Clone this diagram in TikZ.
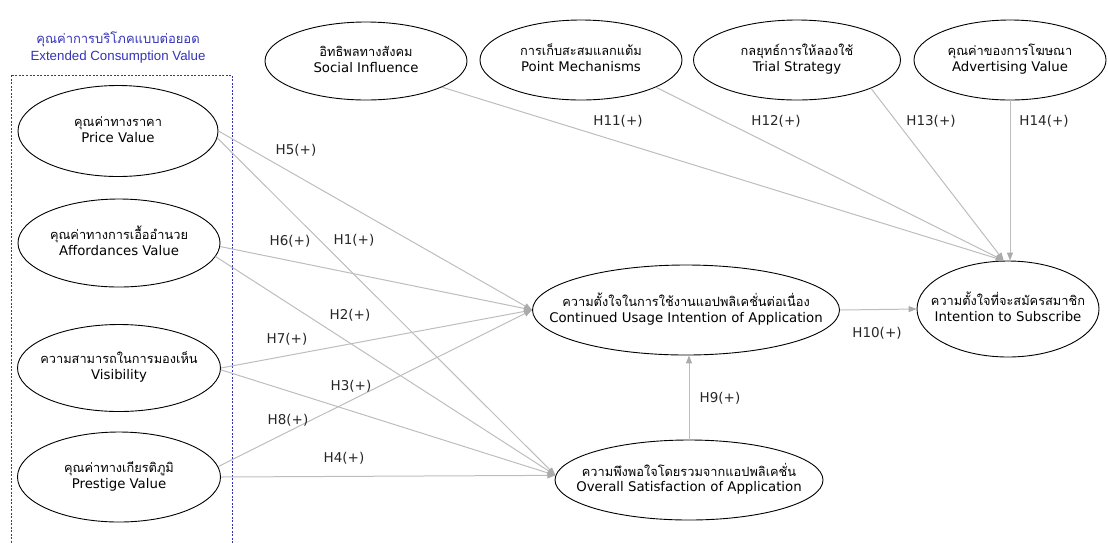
\documentclass[tikz,border=0pt]{standalone}
\usepackage{fontspec}
\setmainfont{DejaVu Sans}
\newfontfamily\thai[Script=Thai]{Loma}
\newfontfamily\arialf{Liberation Sans}
\newfontfamily\thaititle[Script=Thai]{Loma}
\usetikzlibrary{shapes.geometric,arrows.meta}
\definecolor{edgegray}{HTML}{BDBDBD}
\definecolor{tipgray}{HTML}{ABABAB}
\definecolor{boxblue}{HTML}{3333BB}
\newcommand{\vlab}[3][0pt]{\raisebox{#1}{\makebox[0pt]{\begin{tabular}{@{}c@{}}{\thai\fontsize{12.8}{16.5}\selectfont #2}\\[-1pt]#3\end{tabular}}}}
\tikzset{
  var/.style={ellipse,draw=black,line width=0.9pt,fill=white,inner sep=0pt,
    font=\fontsize{13.3}{16.5}\selectfont},
  conn/.style={draw=edgegray,line width=1pt,-{Triangle[length=8pt,width=6pt,fill=tipgray,color=tipgray]}},
  hlab/.style={font=\fontsize{13.5}{15}\selectfont,text=black!85,inner sep=0pt}
}
\begin{document}
\begin{tikzpicture}[x=1pt,y=-1pt]
\useasboundingbox (0,0) rectangle (1108,542);
% group box
\draw[boxblue,line width=0.9pt,dash pattern=on 2pt off 1.5pt] (11,75) rectangle (232,545);
\node[text=boxblue,align=center,font=\fontsize{13.3}{17}\selectfont] (grp) at (118,48)
  {{\thaititle\fontsize{13}{17}\selectfont คุณค่าการบริโภคแบบต่อยอด}\\{\arialf Extended Consumption Value}};
% left nodes
\node[var,minimum width=200pt,minimum height=91pt] (price) at (118,131) {\vlab{คุณค่าทางราคา}{Price Value}};
\node[var,minimum width=202pt,minimum height=88pt] (aff) at (119,243) {\vlab{คุณค่าทางการเอื้ออำนวย}{Affordances Value}};
\node[var,minimum width=203pt,minimum height=87pt] (vis) at (119,368) {\vlab{ความสามารถในการมองเห็น}{Visibility}};
\node[var,minimum width=203pt,minimum height=90pt] (pres) at (119,477) {\vlab[3pt]{คุณค่าทางเกียรติภูมิ}{Prestige Value}};
% top nodes
\node[var,minimum width=202pt,minimum height=78pt] (si) at (366,61) {\vlab[5pt]{อิทธิพลทางสังคม}{Social Influence}};
\node[var,minimum width=202pt,minimum height=80pt] (pm) at (581,60) {\vlab[4pt]{การเก็บสะสมแลกแต้ม}{Point Mechanisms}};
\node[var,minimum width=207pt,minimum height=80pt] (ts) at (797,60) {\vlab[4pt]{กลยุทธ์การให้ลองใช้}{Trial Strategy}};
\node[var,minimum width=192pt,minimum height=80pt] (ad) at (1010,60) {\vlab[4pt]{คุณค่าของการโฆษณา}{Advertising Value}};
% mediators and outcome
\node[var,minimum width=307pt,minimum height=90pt] (cont) at (686,310) {\vlab{ความตั้งใจในการใช้งานแอปพลิเคชั่นต่อเนื่อง}{Continued Usage Intention of Application}};
\node[var,minimum width=268pt,minimum height=80pt] (over) at (689,480) {\vlab{ความพึงพอใจโดยรวมจากแอปพลิเคชั่น}{Overall Satisfaction of Application}};
\node[var,minimum width=182pt,minimum height=96pt] (int) at (1008,309) {\vlab[-1pt]{ความตั้งใจที่จะสมัครสมาชิก}{Intention to Subscribe}};
% connectors
\draw[conn] (price.east) -- (cont.180);
\draw[conn] (price.-4) -- (over.178);
\draw[conn] (aff.-2) -- (cont.180);
\draw[conn] (aff.-8) -- (over.178);
\draw[conn] (vis.east) -- (cont.180);
\draw[conn] (vis.-1) -- (over.178);
\draw[conn] (pres.6) -- (cont.180);
\draw[conn] (pres.east) -- (over.178);
\draw[conn] (si.-19) -- (int.95);
\draw[conn] (pm.-20) -- (int.95);
\draw[conn] (ts.-21) -- (int.95);
\draw[conn] (ad.south) -- (ad.south |- int.north);
\draw[conn] (cont.east) -- (int.west);
\draw[conn] (over.north) -- (over.north |- cont.south);
% labels
\node[hlab] (l5) at (296,150) {H5(+)};
\node[hlab] (l1) at (354,240) {H1(+)};
\node[hlab] (l6) at (290,241) {H6(+)};
\node[hlab] (l2) at (350,315) {H2(+)};
\node[hlab] (l7) at (287,339) {H7(+)};
\node[hlab] (l3) at (351,386) {H3(+)};
\node[hlab] (l8) at (288,420) {H8(+)};
\node[hlab] (l4) at (344,458) {H4(+)};
\node[hlab] (l11) at (618,121) {H11(+)};
\node[hlab] (l12) at (776,121) {H12(+)};
\node[hlab] (l13) at (931,121) {H13(+)};
\node[hlab] (l14) at (1044,121) {H14(+)};
\node[hlab] (l10) at (877,333) {H10(+)};
\node[hlab] (l9) at (720,398) {H9(+)};
\end{tikzpicture}
\end{document}
